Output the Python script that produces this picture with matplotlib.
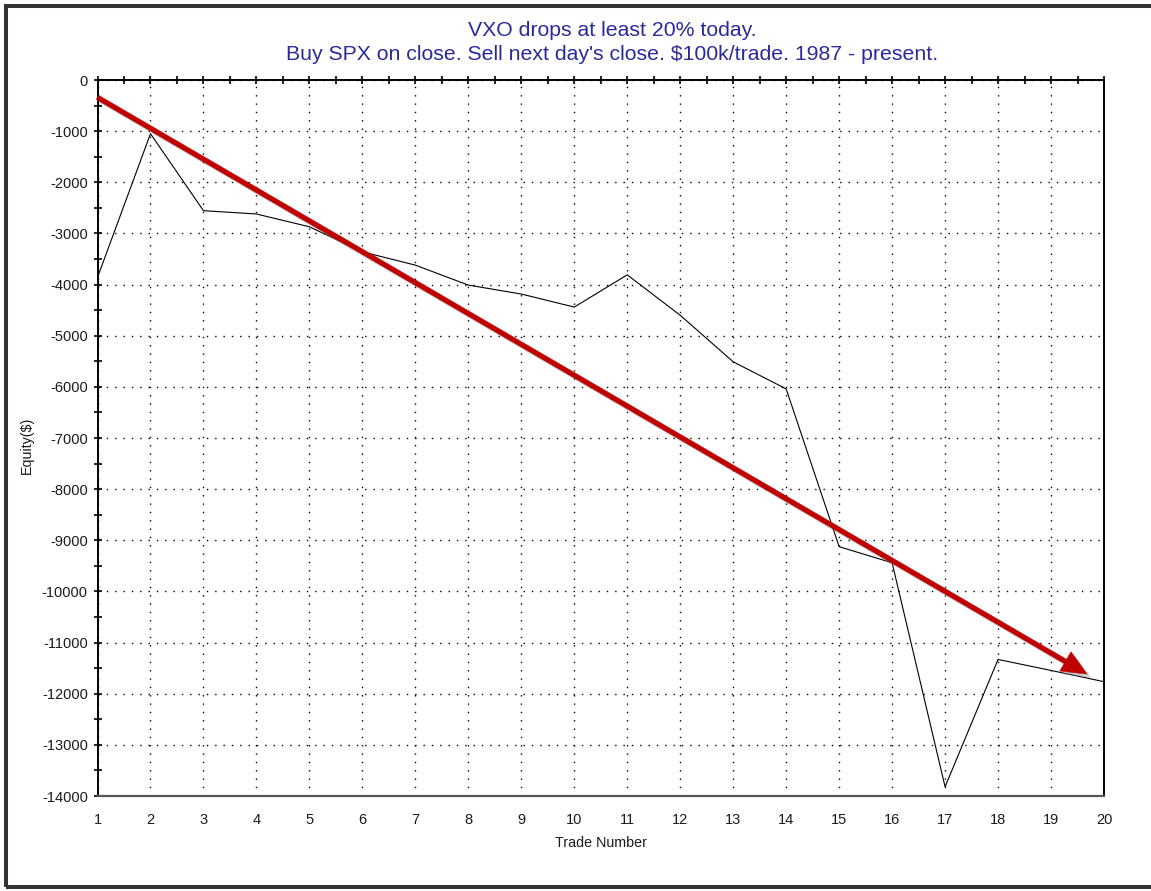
import matplotlib
matplotlib.use("Agg")
import matplotlib.pyplot as plt
import matplotlib.patheffects as pe
from matplotlib.patches import Rectangle
from matplotlib.ticker import MultipleLocator

plt.rcParams['font.family'] = ['Liberation Sans', 'DejaVu Sans']
plt.rcParams['axes.unicode_minus'] = False

# equity curve
trades = list(range(1, 21))
equity = [-3860, -1050, -2555, -2620, -2870, -3360, -3620, -4010, -4185, -4440,
          -3810, -4600, -5510, -6040, -9125, -9440, -13820, -11330, -11545, -11765]

# red trend arrow (trade number, equity)
arrow_start = (1.0, -340)
arrow_end = (19.68, -11615)

title1 = "VXO drops at least 20% today."
title2 = "Buy SPX on close. Sell next day's close. $100k/trade. 1987 - present."

W, H = 1151, 891
fig = plt.figure(figsize=(W / 100, H / 100), dpi=100)
ax = fig.add_axes([97.5 / W, 1 - 796 / H, (1104 - 97.5) / W, (796 - 80) / H])

ax.plot(trades, equity, color='black', lw=0.8, zorder=3)

ann = ax.annotate('', xy=arrow_end, xytext=arrow_start,
                  arrowprops=dict(arrowstyle='simple,head_length=0.45,head_width=0.4,tail_width=0.085',
                                  mutation_scale=40, lw=0.4, color='#c00000',
                                  shrinkA=0, shrinkB=0), zorder=4)
ann.arrow_patch.set_path_effects([
    pe.SimplePatchShadow(offset=(2.5, -2.5), shadow_rgbFace='gray', alpha=0.4),
    pe.Normal()])

ax.set_xlim(1, 20)
ax.set_ylim(-14000, 0)
ax.set_xticks(trades)
ax.yaxis.set_major_locator(MultipleLocator(1000))
ax.yaxis.set_minor_locator(MultipleLocator(500))
ax.grid(True, which='major', color='black', lw=1.0, ls=(0, (1, 5)))

ax.tick_params(axis='x', which='both', length=0, pad=12, labelsize=10.5, labelcolor='#1a1a1a')
ax.tick_params(axis='y', which='both', direction='inout', length=6, width=1.2,
               pad=4, labelsize=10.5, labelcolor='#1a1a1a')

# half-step ticks along the top edge
top = ax.secondary_xaxis('top')
top.set_xticks([1 + 0.5 * i for i in range(39)])
top.tick_params(direction='inout', length=6, width=1.2, labeltop=False)
top.spines['top'].set_visible(False)

for s in ['top', 'left', 'right']:
    ax.spines[s].set_linewidth(1.4)
    ax.spines[s].set_color('black')
ax.spines['bottom'].set_linewidth(1.6)
ax.spines['bottom'].set_color('#555555')

fig.text(612 / W, 1 - 30 / H, title1, ha='center', va='center', fontsize=15.3, color='#2a2a9c')
fig.text(612 / W, 1 - 55 / H, title2, ha='center', va='center', fontsize=15.3, color='#2a2a9c')
fig.text(601 / W, 1 - 843 / H, "Trade Number", ha='center', va='center', fontsize=10.3, color='#1a1a1a')
fig.text(27 / W, 1 - 445 / H, "Equity($)", ha='center', va='center', rotation=90,
         fontsize=10.3, color='#1a1a1a')

# dark frame round the picture
fig.patches.append(Rectangle((6 / W, 4 / H), 1.05, 1 - 10 / H, transform=fig.transFigure,
                             fill=False, edgecolor='#333333', lw=2.9))

fig.savefig('out.png', dpi=100)
